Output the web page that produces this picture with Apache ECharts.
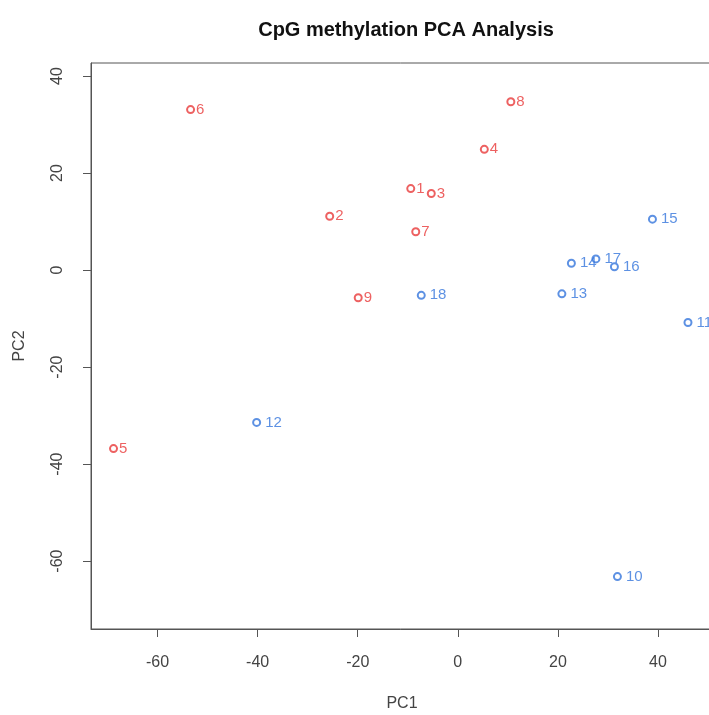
<!DOCTYPE html>
<html>
<head>
<meta charset="utf-8">
<script src="https://cdn.jsdelivr.net/npm/echarts@6/dist/echarts.min.js"></script>
<style>
  html, body { margin: 0; padding: 0; background: #fff; }
  #main { width: 709px; height: 715px; }
</style>
</head>
<body>
<div id="main"></div>
<script>
// samples 1-9 (red group)
var redIds = ['1', '2', '3', '4', '5', '6', '7', '8', '9'];
var redPC1 = [-9.4, -25.6, -5.3, 5.3, -68.8, -53.4, -8.4, 10.6, -19.9];
var redPC2 = [16.8, 11.1, 15.8, 24.9, -36.8, 33.1, 7.9, 34.7, -5.7];

// samples 10-18 (blue group)
var blueIds = ['10', '11', '12', '13', '14', '15', '16', '17', '18'];
var bluePC1 = [31.9, 46.0, -40.2, 20.8, 22.7, 38.9, 31.3, 27.6, -7.3];
var bluePC2 = [-63.2, -10.8, -31.4, -4.9, 1.4, 10.5, 0.7, 2.3, -5.2];

var xTicks = [-60, -40, -20, 0, 20, 40];
var yTicks = [-60, -40, -20, 0, 20, 40];

function makePoints(ids, xs, ys) {
    var out = [];
    for (var i = 0; i < ids.length; i++) {
        out.push({ name: ids[i], value: [xs[i], ys[i]] });
    }
    return out;
}

var axisColor = '#555';
var textColor = '#444';
var fontFam = '"Liberation Sans", Arial, Helvetica, sans-serif';

var chart = echarts.init(document.getElementById('main'));

var option = {
    animation: false,
    backgroundColor: '#fff',
    title: {
        text: 'CpG methylation PCA Analysis',
        left: 401,
        top: 15,
        textAlign: 'center',
        textStyle: { fontFamily: fontFam, fontSize: 20, fontWeight: 'bold', color: '#111' }
    },
    grid: {
        left: 91,
        top: 63,
        bottom: 86,
        right: -4,
        show: true,
        borderColor: axisColor,
        borderWidth: 1,
        containLabel: false,
        outerBoundsMode: 'none'
    },
    xAxis: {
        type: 'value',
        min: -73.3,
        max: 51,
        name: 'PC1',
        nameLocation: 'middle',
        nameGap: 67,
        nameTextStyle: { fontFamily: fontFam, fontSize: 16, color: textColor },
        splitLine: { show: false },
        axisLine: { show: true, onZero: false, lineStyle: { color: axisColor } },
        axisTick: { show: true, length: 8, customValues: xTicks, lineStyle: { color: axisColor } },
        axisLabel: {
            customValues: xTicks,
            margin: 26,
            fontFamily: fontFam,
            fontSize: 16,
            color: textColor
        }
    },
    yAxis: {
        type: 'value',
        min: -74,
        max: 42.7,
        name: 'PC2',
        nameLocation: 'middle',
        nameRotate: 90,
        nameGap: 63,
        nameTextStyle: { fontFamily: fontFam, fontSize: 16, color: textColor },
        splitLine: { show: false },
        axisLine: { show: true, onZero: false, lineStyle: { color: axisColor } },
        axisTick: { show: true, length: 8, customValues: yTicks, lineStyle: { color: axisColor } },
        axisLabel: {
            customValues: yTicks,
            rotate: 90,
            margin: 25,
            fontFamily: fontFam,
            fontSize: 16,
            color: textColor
        }
    },
    series: [
        {
            name: 'group1',
            type: 'scatter',
            symbol: 'emptyCircle',
            symbolSize: 7,
            itemStyle: { color: '#e83a3a', borderWidth: 0.8 },
            label: {
                show: true,
                position: 'right',
                distance: 1,
                formatter: '{b}',
                fontFamily: fontFam,
                fontSize: 15,
                color: '#e83a3a'
            },
            data: makePoints(redIds, redPC1, redPC2)
        },
        {
            name: 'group2',
            type: 'scatter',
            symbol: 'emptyCircle',
            symbolSize: 7,
            itemStyle: { color: '#3476dc', borderWidth: 0.8 },
            label: {
                show: true,
                position: 'right',
                distance: 4,
                formatter: '{b}',
                fontFamily: fontFam,
                fontSize: 15,
                color: '#3476dc'
            },
            data: makePoints(blueIds, bluePC1, bluePC2)
        }
    ]
};

chart.setOption(option);
</script>
</body>
</html>
